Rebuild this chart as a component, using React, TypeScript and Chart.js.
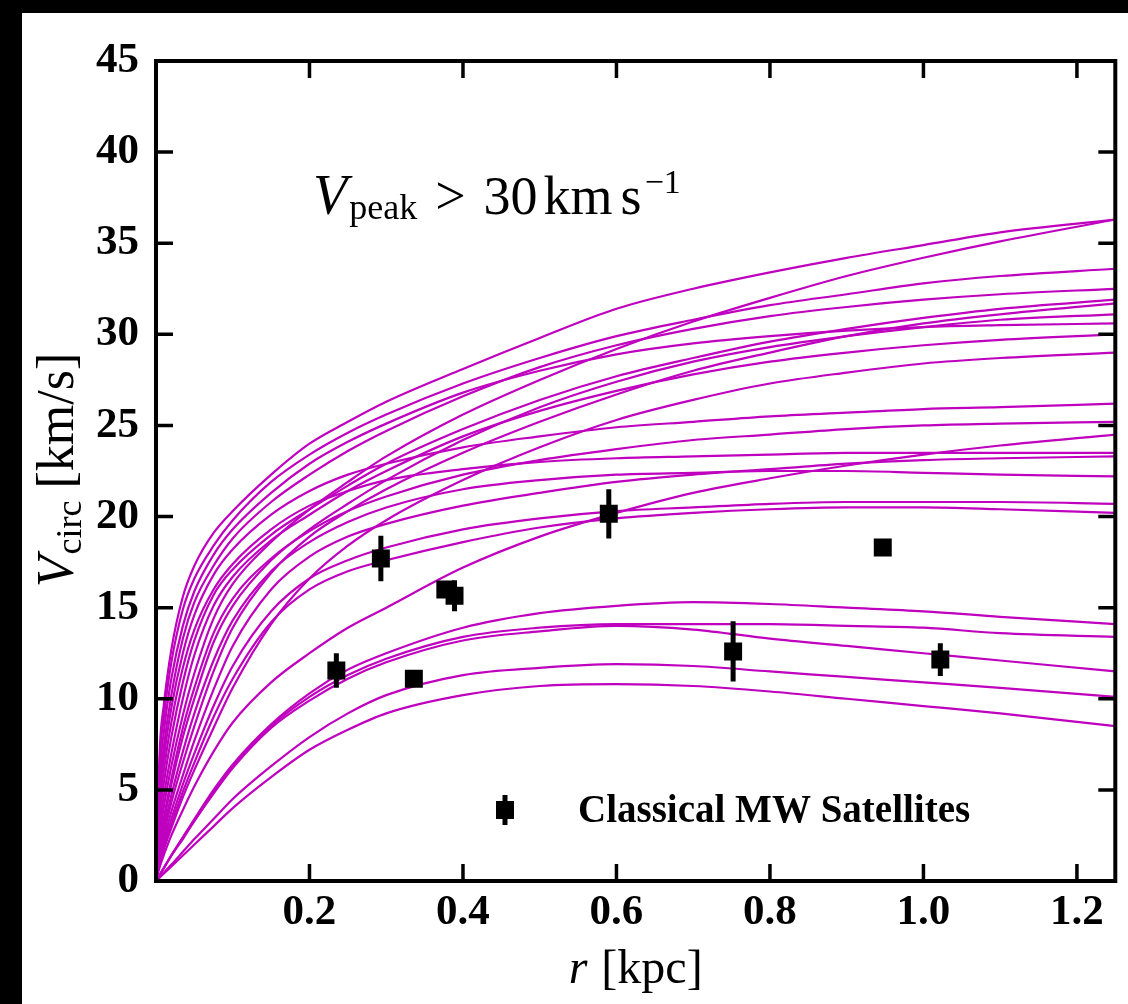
import React, { useEffect, useRef } from 'react';
import { Chart, registerables } from 'chart.js';

Chart.register(...registerables);

// radius samples [kpc]
const R = [0, 0.005, 0.01, 0.02, 0.035, 0.05, 0.075, 0.1, 0.15, 0.2, 0.25, 0.3, 0.4, 0.5, 0.6, 0.7, 0.8, 0.9, 1.0, 1.1, 1.25];

// circular velocity curves [km/s]
const U1 = [0, 7.3, 9.6, 12.7, 15.6, 17.3, 19.1, 20.3, 22.3, 24.0, 25.2, 26.3, 28.1, 29.8, 31.4, 32.5, 33.4, 34.2, 34.9, 35.6, 36.3];
const U2 = [0, 2.5, 4.0, 6.3, 9.1, 11.4, 14.4, 16.3, 18.6, 20.4, 21.9, 23.3, 25.6, 27.5, 29.2, 30.7, 32.0, 33.2, 34.2, 35.1, 36.3];
const U3 = [0, 6.7, 8.9, 12.0, 14.9, 16.6, 18.4, 19.8, 21.9, 23.4, 24.6, 25.6, 27.3, 28.7, 29.9, 30.8, 31.6, 32.2, 32.8, 33.2, 33.6];
const U4 = [0, 5.2, 7.3, 10.2, 13.3, 15.3, 17.3, 18.8, 20.8, 22.3, 23.6, 24.7, 26.6, 28.2, 29.4, 30.3, 31.0, 31.5, 31.9, 32.2, 32.5];
const U5 = [0, 3.6, 5.3, 7.9, 10.9, 13.2, 15.7, 17.1, 19.0, 20.4, 21.7, 22.9, 24.8, 26.4, 27.7, 28.7, 29.6, 30.3, 30.9, 31.4, 31.9];
const U6 = [0, 1.5, 2.5, 4.3, 6.5, 8.5, 11.5, 13.9, 16.9, 18.9, 20.3, 21.5, 23.5, 25.2, 26.7, 28.0, 29.0, 29.9, 30.6, 31.1, 31.7];
const U7 = [0, 2.0, 3.2, 5.3, 7.9, 10.0, 13.1, 15.1, 17.6, 19.3, 20.7, 22.0, 24.2, 26.0, 27.4, 28.5, 29.3, 29.9, 30.4, 30.8, 31.1];
const U8 = [0, 5.9, 8.1, 11.1, 14.0, 15.9, 17.9, 19.3, 21.3, 22.9, 24.1, 25.1, 26.8, 28.0, 28.9, 29.5, 29.9, 30.2, 30.4, 30.5, 30.6];
const U9 = [0, 3.0, 4.6, 7.0, 10.0, 12.4, 15.1, 16.7, 18.7, 20.1, 21.4, 22.5, 24.4, 25.8, 26.9, 27.8, 28.5, 29.0, 29.4, 29.7, 30.0];
const U10 = [0, 1.0, 1.7, 2.9, 4.6, 6.1, 8.4, 10.6, 14.1, 16.6, 18.4, 19.8, 22.0, 23.8, 25.3, 26.4, 27.3, 27.9, 28.4, 28.7, 29.0];

const M1 = [0, 4.8, 6.7, 9.5, 12.5, 14.6, 16.8, 18.2, 20.1, 21.4, 22.3, 22.9, 23.8, 24.4, 24.9, 25.2, 25.5, 25.7, 25.9, 26.0, 26.2];
const M2 = [0, 2.1, 3.4, 5.6, 8.4, 10.6, 13.6, 15.5, 17.7, 19.2, 20.3, 21.1, 22.3, 23.1, 23.7, 24.2, 24.5, 24.8, 25.0, 25.1, 25.2];
const M3 = [0, 0.8, 1.4, 2.5, 3.9, 5.2, 7.1, 8.7, 10.9, 12.5, 13.9, 15.0, 17.2, 18.9, 20.2, 21.3, 22.1, 22.8, 23.4, 23.9, 24.5];
const M4 = [0, 4.1, 6.0, 8.7, 11.7, 13.8, 16.0, 17.4, 19.3, 20.6, 21.4, 22.0, 22.6, 23.0, 23.2, 23.3, 23.4, 23.5, 23.5, 23.5, 23.5];
const M5 = [0, 1.3, 2.2, 3.8, 5.8, 7.7, 10.5, 12.9, 16.0, 17.8, 18.9, 19.6, 20.6, 21.3, 21.9, 22.3, 22.6, 22.9, 23.1, 23.2, 23.3];
const M6 = [0, 1.7, 2.8, 4.7, 7.1, 9.2, 12.1, 14.3, 17.0, 18.6, 19.7, 20.5, 21.5, 22.0, 22.3, 22.4, 22.5, 22.5, 22.4, 22.3, 22.2];
const M7 = [0, 1.1, 2.0, 3.4, 5.3, 7.0, 9.6, 11.8, 14.8, 16.6, 17.6, 18.3, 19.3, 19.9, 20.3, 20.5, 20.7, 20.8, 20.8, 20.8, 20.7];
const M8 = [0, 1.0, 1.8, 3.1, 4.9, 6.5, 9.0, 11.1, 14.2, 16.0, 17.0, 17.6, 18.6, 19.4, 19.9, 20.2, 20.4, 20.5, 20.5, 20.4, 20.2];

const L1 = [0, 0.35, 0.7, 1.4, 2.4, 3.4, 5.0, 6.4, 8.6, 10.3, 11.6, 12.5, 13.9, 14.7, 15.1, 15.3, 15.2, 15.0, 14.8, 14.5, 14.1];
const L2 = [0, 0.35, 0.7, 1.4, 2.4, 3.3, 4.9, 6.3, 8.5, 10.1, 11.3, 12.2, 13.4, 13.9, 14.1, 14.1, 14.1, 14.0, 13.9, 13.6, 13.4];
const L3 = [0, 0.35, 0.7, 1.4, 2.3, 3.3, 4.8, 6.2, 8.4, 9.9, 11.1, 12.0, 13.2, 13.7, 14.0, 13.8, 13.3, 12.9, 12.5, 12.1, 11.5];
const L4 = [0, 0.23, 0.45, 0.9, 1.6, 2.3, 3.4, 4.5, 6.3, 7.9, 9.2, 10.2, 11.3, 11.7, 11.9, 11.8, 11.5, 11.2, 10.9, 10.6, 10.1];
const L5 = [0, 0.2, 0.4, 0.8, 1.4, 2.0, 3.0, 4.0, 5.7, 7.2, 8.3, 9.2, 10.2, 10.7, 10.8, 10.7, 10.4, 10.0, 9.6, 9.2, 8.5];

const CURVES = [U1, U2, U3, U4, U5, U6, U7, U8, U9, U10, M1, M2, M3, M4, M5, M6, M7, M8, L1, L2, L3, L4, L5];

// Classical MW satellites
const SAT_R = [0.235, 0.293, 0.336, 0.377, 0.389, 0.59, 0.752, 0.947, 1.022];
const SAT_V = [11.55, 17.7, 11.1, 16.0, 15.65, 20.15, 12.6, 18.3, 12.15];
const SAT_ERR = [0.95, 1.25, 0.3, 0.45, 0.85, 1.35, 1.65, 0.3, 0.9];

// ticks
const X_TICKS = [0.2, 0.4, 0.6, 0.8, 1.0, 1.2];
const X_TICK_LABELS = ['0.2', '0.4', '0.6', '0.8', '1.0', '1.2'];
const Y_TICKS = [0, 5, 10, 15, 20, 25, 30, 35, 40, 45];
const Y_TICK_LABELS = ['0', '5', '10', '15', '20', '25', '30', '35', '40', '45'];

const LEGEND_LABEL = 'Classical MW Satellites';

const SERIF = '"Liberation Serif", "Times New Roman", serif';
const MAGENTA = '#BF00BF';

type Run = { text: string; font: string; dy?: number; gap?: number };

function runsWidth(ctx: CanvasRenderingContext2D, runs: Run[]) {
  let w = 0;
  for (const r of runs) {
    ctx.font = r.font;
    w += (r.gap || 0) + ctx.measureText(r.text).width;
  }
  return w;
}

function drawRuns(ctx: CanvasRenderingContext2D, x: number, y: number, runs: Run[]) {
  let cx = x;
  ctx.textBaseline = 'alphabetic';
  ctx.textAlign = 'left';
  for (const r of runs) {
    cx += r.gap || 0;
    ctx.font = r.font;
    ctx.fillText(r.text, cx, y + (r.dy || 0));
    cx += ctx.measureText(r.text).width;
  }
}

const framePlugin = {
  id: 'frame',
  afterDraw(chart: any) {
    const { ctx, chartArea, scales } = chart;
    const { left, right, top, bottom } = chartArea;
    ctx.save();
    ctx.strokeStyle = '#000';
    ctx.lineWidth = 3.5;
    const tl = 17;
    ctx.beginPath();
    for (const v of X_TICKS) {
      const px = scales.x.getPixelForValue(v);
      ctx.moveTo(px, bottom);
      ctx.lineTo(px, bottom - tl);
      ctx.moveTo(px, top);
      ctx.lineTo(px, top + tl);
    }
    for (const v of Y_TICKS) {
      if (v === 0 || v === 45) continue;
      const py = scales.y.getPixelForValue(v);
      ctx.moveTo(left, py);
      ctx.lineTo(left + tl, py);
      ctx.moveTo(right, py);
      ctx.lineTo(right - tl, py);
    }
    ctx.stroke();
    ctx.lineWidth = 4;
    ctx.strokeRect(left, top, right - left, bottom - top);
    ctx.restore();
  },
};

const errorBarPlugin = {
  id: 'errorBars',
  afterDatasetsDraw(chart: any) {
    const { ctx, scales } = chart;
    ctx.save();
    ctx.strokeStyle = '#000';
    ctx.lineWidth = 5;
    ctx.beginPath();
    SAT_R.forEach((r, i) => {
      const px = scales.x.getPixelForValue(r);
      ctx.moveTo(px, scales.y.getPixelForValue(SAT_V[i] - SAT_ERR[i]));
      ctx.lineTo(px, scales.y.getPixelForValue(SAT_V[i] + SAT_ERR[i]));
    });
    ctx.stroke();
    ctx.restore();
  },
};

const textPlugin = {
  id: 'texts',
  afterDraw(chart: any) {
    const { ctx, chartArea } = chart;
    ctx.save();
    ctx.fillStyle = '#000';

    // annotation
    drawRuns(ctx, 291, 201, [
      { text: 'V', font: `italic 56px ${SERIF}` },
      { text: 'peak', font: `36px ${SERIF}`, dy: 5, gap: 2 },
      { text: '>', font: `54px ${SERIF}`, gap: 18 },
      { text: '30', font: `54px ${SERIF}`, gap: 18 },
      { text: 'km', font: `54px ${SERIF}`, gap: 6 },
      { text: 's', font: `54px ${SERIF}`, gap: 8 },
      { text: '\u22121', font: `34px ${SERIF}`, dy: -21, gap: 3 },
    ]);

    // x title
    const xRuns: Run[] = [
      { text: 'r', font: `italic 48px ${SERIF}` },
      { text: '[kpc]', font: `48px ${SERIF}`, gap: 14 },
    ];
    const xw = runsWidth(ctx, xRuns);
    drawRuns(ctx, (chartArea.left + chartArea.right) / 2 - xw / 2, 970, xRuns);

    // y title
    const yRuns: Run[] = [
      { text: 'V', font: `italic 52px ${SERIF}` },
      { text: 'circ', font: `36px ${SERIF}`, dy: 8, gap: 1 },
      { text: '[km/s]', font: `52px ${SERIF}`, gap: 12 },
    ];
    const yw = runsWidth(ctx, yRuns);
    ctx.save();
    ctx.translate(51, 457);
    ctx.rotate(-Math.PI / 2);
    drawRuns(ctx, -yw / 2, 0, yRuns);
    ctx.restore();

    // legend
    const mx = 483;
    const my = 797;
    ctx.strokeStyle = '#000';
    ctx.lineWidth = 5;
    ctx.beginPath();
    ctx.moveTo(mx, my - 15);
    ctx.lineTo(mx, my + 15);
    ctx.stroke();
    ctx.fillRect(mx - 9, my - 9, 18, 18);
    ctx.font = `bold 39px ${SERIF}`;
    ctx.textBaseline = 'middle';
    ctx.textAlign = 'left';
    ctx.fillText(LEGEND_LABEL, 556, 799);

    ctx.restore();
  },
};

export default function App() {
  const ref = useRef<HTMLCanvasElement>(null);

  useEffect(() => {
    document.body.style.margin = '0';
    const canvas = ref.current;
    if (!canvas) return;

    const lineSets = CURVES.map((c) => ({
      type: 'line' as const,
      data: R.map((r, i) => ({ x: r, y: c[i] })),
      borderColor: MAGENTA,
      borderWidth: 2.2,
      pointRadius: 0,
      fill: false,
      cubicInterpolationMode: 'monotone' as const,
    }));

    const chart = new Chart(canvas, {
      type: 'line',
      data: {
        datasets: [
          {
            type: 'scatter' as const,
            label: LEGEND_LABEL,
            data: SAT_R.map((r, i) => ({ x: r, y: SAT_V[i] })),
            pointStyle: 'rect',
            pointRadius: 12.7,
            backgroundColor: '#000',
            borderColor: '#000',
            borderWidth: 0,
          } as any,
          ...lineSets,
        ],
      },
      options: {
        responsive: false,
        animation: false,
        events: [],
        layout: { padding: { top: 48, right: 8, bottom: 0, left: 0 } },
        plugins: {
          legend: { display: false },
          tooltip: { enabled: false },
          title: { display: false },
        },
        scales: {
          x: {
            type: 'linear',
            min: 0,
            max: 1.25,
            afterBuildTicks: (s: any) => {
              s.ticks = X_TICKS.map((v) => ({ value: v }));
            },
            afterFit: (s: any) => {
              s.height = 123;
            },
            ticks: {
              autoSkip: false,
              maxRotation: 0,
              padding: 6,
              color: '#000',
              font: { family: SERIF, weight: 'bold', size: 43 },
              callback: (v: any) => X_TICK_LABELS[X_TICKS.indexOf(Number(v))] ?? '',
            },
            grid: { display: false, drawTicks: false },
            border: { display: false },
          },
          y: {
            type: 'linear',
            min: 0,
            max: 45,
            afterBuildTicks: (s: any) => {
              s.ticks = Y_TICKS.map((v) => ({ value: v }));
            },
            afterFit: (s: any) => {
              s.width = 134;
            },
            ticks: {
              autoSkip: false,
              padding: 17,
              color: '#000',
              font: { family: SERIF, weight: 'bold', size: 43 },
              callback: (v: any) => Y_TICK_LABELS[Y_TICKS.indexOf(Number(v))] ?? '',
            },
            grid: { display: false, drawTicks: false },
            border: { display: false },
          },
        },
      } as any,
      plugins: [errorBarPlugin, framePlugin, textPlugin],
    });

    return () => chart.destroy();
  }, []);

  return (
    <div style={{ position: 'fixed', left: 0, top: 0, width: 1128, height: 1004, background: '#000' }}>
      <div style={{ position: 'absolute', left: 22, top: 13, width: 1106, height: 991, background: '#fff' }}>
        <canvas ref={ref} width={1106} height={991} style={{ display: 'block', width: 1106, height: 991 }} />
      </div>
    </div>
  );
}
